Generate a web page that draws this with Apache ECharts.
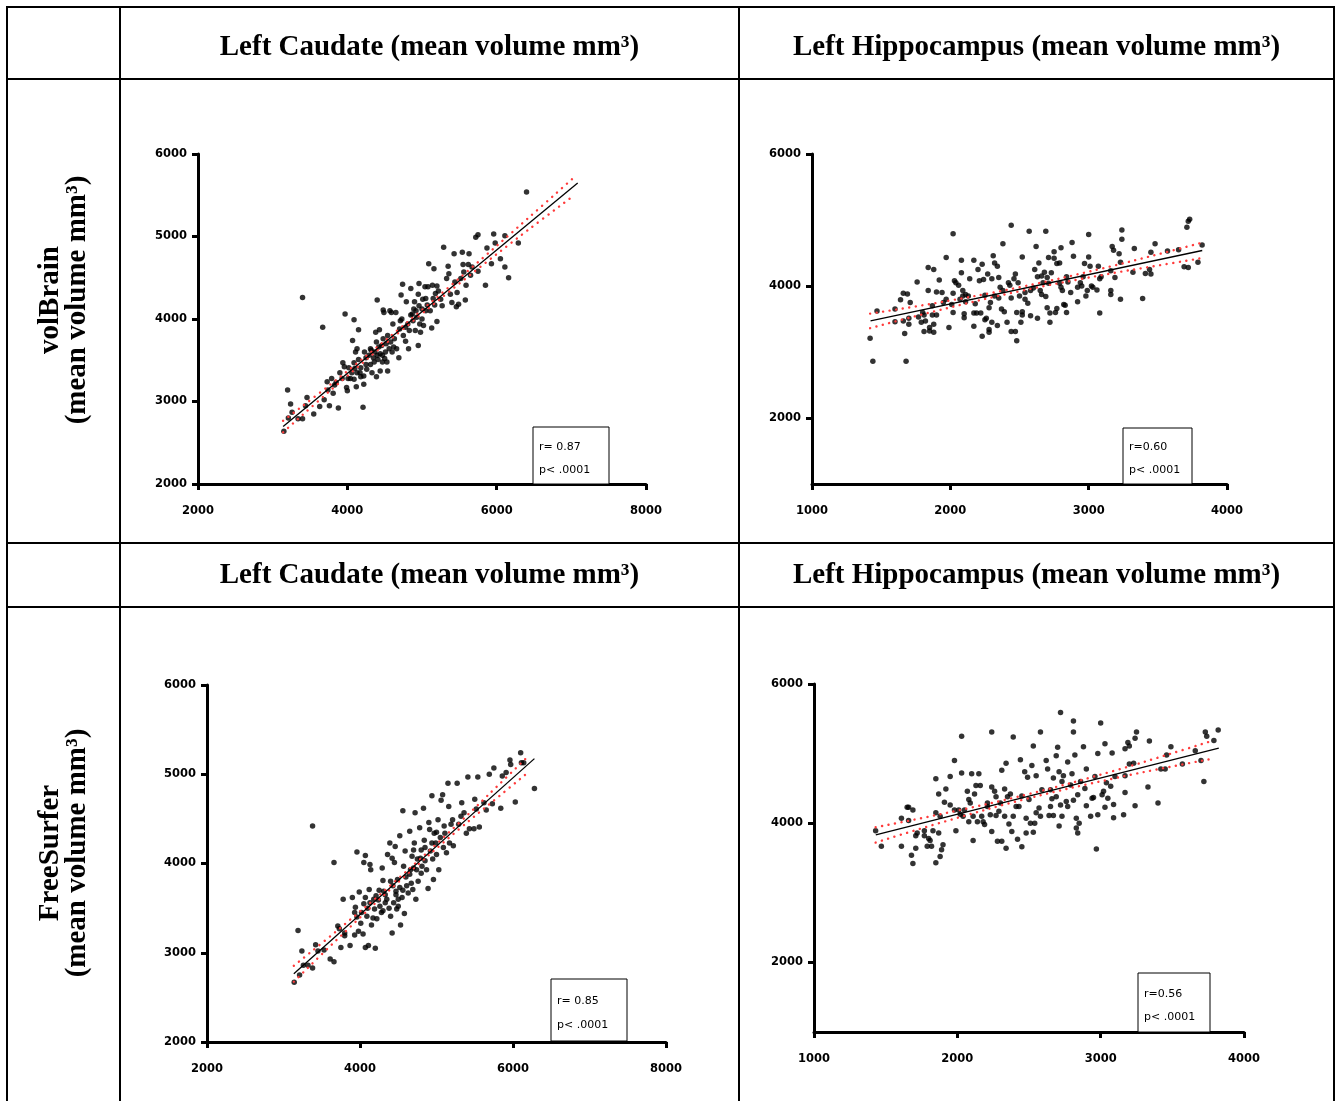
<!DOCTYPE html>
<html>
<head>
<meta charset="utf-8">
<script src="https://cdn.jsdelivr.net/npm/echarts@6/dist/echarts.min.js"></script>
<style>
  html, body { margin: 0; padding: 0; background: #fff; }
  #chart { width: 1338px; height: 1101px; }
</style>
</head>
<body>
<div id="chart"></div>
<script>
// volBrain - left caudate (x: reference volume, y: volBrain volume)
const vbCaudate = [
  [3150,2640],[3200,3140],[3210,2800],[3240,2970],[3260,2870],[3340,2790],[3400,2790],[3400,4260],[3460,3050],[3440,2950],
  [3550,2850],[3630,2940],[3670,3900],[3690,3020],[3730,3240],[3760,2950],[3740,3140],[3790,3280],[3810,3100],[3830,3200],
  [3880,2920],[3930,3280],[3940,3470],[3970,4060],[3960,3420],[3990,3170],[4010,3280],[4000,3130],[4020,3410],[4040,3280],
  [4070,3740],[4090,3990],[4090,3470],[4090,3270],[4100,3400],[4110,3600],[4130,3640],[4130,3350],[4150,3870],[4150,3510],
  [4170,3350],[4180,3410],[4210,2930],[4220,3310],[4220,3210],[4230,3600],[4250,3530],[4260,3390],[4290,3560],[4310,3640],
  [4310,3450],[4330,3350],[4350,3530],[4370,3600],[4380,3840],[4390,3720],[4390,3300],[4400,4230],[4410,3510],[4430,3870],
  [4440,3580],[4440,3370],[4460,3680],[4470,3480],[4480,4110],[4480,3760],[4490,4080],[4510,3600],[4530,3480],[4540,3370],
  [4560,3640],[4570,4100],[4590,4080],[4600,3600],[4610,3940],[4630,3760],[4650,4080],[4660,3640],[4690,3530],[4700,3880],
  [4710,3980],[4720,4290],[4730,4000],[4740,4420],[4750,3800],[4780,3730],[4790,4210],[4810,3940],[4820,3640],[4830,3860],
  [4850,4370],[4870,4060],[4880,3980],[4890,4120],[4900,4210],[4910,3860],[4930,4020],[4950,3680],[4960,4430],[4960,4160],
  [4970,3940],[4980,3840],[5000,4120],[5010,4240],[5020,3920],[5040,4390],[5050,4100],[5070,4170],[5080,4390],[5090,4670],
  [5110,4100],[5130,3890],[5140,4410],[5160,4610],[5170,4170],[5180,4310],[5200,3970],[5220,4340],[5250,4240],[5270,4160],
  [5290,4870],[5330,4490],[5350,4640],[5360,4550],[5380,4300],[5400,4200],[5430,4790],[5440,4450],[5460,4150],[5470,4320],
  [5490,4180],[5520,4490],[5540,4810],[5550,4660],[5560,4570],[5580,4230],[5590,4410],[5620,4660],[5630,4790],[5650,4530],
  [5670,4630],[5720,4990],[5750,5020],[5750,4580],[5850,4410],[5870,4860],[5930,4670],[5960,5030],[5980,4920],[6050,4730],
  [6110,4630],[6110,5010],[6160,4500],[6290,4920],[6400,5540],
  [4320,3620],[4360,3480],[4420,3660],[4470,3560],[4520,3700],[4540,3800],[4580,3720],[4620,3660],[4500,3520],[4400,3560],
  [4250,3450],[4180,3300],[4060,3350],[4120,3180],[3900,3350],[3850,3230],[4780,3900],[4850,4050],[4920,4100],[5000,4000],
  [5050,4250],[4950,4300],[5150,4250],[5200,4400]
];
const vbCaudateFit = [[3140,2697],[7085,5648]];
const vbCaudateBandX = [3140,3800,4700,5600,6400,7040];
const vbCaudateUpper = [2767,3225,3884,4572,5205,5720];
const vbCaudateLower = [2627,3155,3844,4502,5065,5500];

// volBrain - left hippocampus
const vbHippo = [
  [1420,3210],[1440,2860],[1470,3620],[1600,3650],[1600,3460],[1640,3790],[1660,3890],[1660,3470],[1670,3280],[1680,2860],
  [1690,3880],[1700,3420],[1700,3510],[1710,3750],[1760,4060],[1770,3530],[1790,3450],[1800,3600],[1810,3310],[1810,3560],
  [1820,3470],[1840,4280],[1840,3930],[1850,3320],[1850,3370],[1870,3700],[1870,3560],[1880,4250],[1880,3420],[1880,3300],
  [1900,3910],[1900,3560],[1920,4090],[1940,3900],[1950,3750],[1970,3800],[1970,4430],[1990,3370],[2010,3720],[2020,3890],
  [2020,3600],[2020,4790],[2030,4080],[2040,4050],[2060,4010],[2070,3800],[2080,4390],[2080,4200],[2090,3850],[2090,3930],
  [2100,3580],[2100,3520],[2110,3760],[2110,3870],[2130,3850],[2140,4110],[2170,3590],[2170,3390],[2170,4390],[2180,3730],
  [2190,3590],[2200,4250],[2210,4080],[2220,3590],[2230,3240],[2230,4330],[2240,4100],[2250,3860],[2250,3490],[2260,3510],
  [2270,4180],[2280,3340],[2280,3300],[2280,3670],[2290,3750],[2300,4110],[2300,3450],[2310,4460],[2320,4350],[2320,3850],
  [2340,4300],[2340,3400],[2350,4130],[2350,3820],[2360,3980],[2370,3650],[2380,4640],[2380,3930],[2390,3610],[2410,3450],
  [2420,4050],[2430,4010],[2440,3310],[2440,4920],[2440,3820],[2460,4110],[2470,3310],[2470,4180],[2480,3170],[2480,3600],
  [2490,4050],[2500,3850],[2510,3450],[2520,3610],[2520,4440],[2520,3560],[2540,3900],[2540,3800],[2560,3740],[2570,4830],
  [2580,3550],[2580,3930],[2600,3970],[2610,4250],[2620,4600],[2630,4140],[2630,3510],[2640,4350],[2650,3930],[2660,3870],
  [2660,4150],[2670,4050],[2680,4210],[2690,3840],[2690,4830],[2700,4130],[2700,3670],[2710,4430],[2710,4040],[2720,3590],
  [2720,3450],[2730,4200],[2750,4520],[2750,4420],[2760,3600],[2770,4340],[2770,3660],[2790,4040],[2790,4350],[2800,3980],
  [2800,4580],[2810,3930],[2820,3720],[2830,3710],[2840,3600],[2840,4140],[2850,4060],[2870,3900],[2880,4660],[2890,4450],
  [2920,3760],[2920,3980],[2940,4050],[2950,4000],[2960,4140],[2970,4340],[2980,3850],[2990,3930],[3000,4780],[3000,4440],
  [3010,4300],[3020,4000],[3030,3980],[3060,3940],[3070,4300],[3080,4110],[3080,3590],[3090,4140],[3160,3870],[3160,3930],
  [3160,4230],[3170,4600],[3180,4540],[3190,4130],[3220,4490],[3230,3800],[3230,4360],[3240,4710],[3240,4850],[3320,4210],
  [3330,4570],[3390,3810],[3410,4190],[3440,4250],[3450,4180],[3450,4510],[3480,4640],[3570,4530],[3650,4550],[3690,4290],
  [3710,4890],[3720,4280],[3720,4980],[3730,5010],[3790,4360],[3820,4620]
];
const vbHippoFit = [[1423,3472],[3821,4538]];
const vbHippoBandX = [1420,1900,2500,3100,3500,3800];
const vbHippoUpper = [3581,3744,3981,4267,4480,4646];
const vbHippoLower = [3361,3624,3921,4167,4310,4416];

// FreeSurfer - left caudate
const fsCaudate = [
  [3140,2670],[3190,3250],[3210,2750],[3240,3020],[3260,2860],[3320,2860],[3380,4420],[3380,2830],[3420,3090],[3450,3020],
  [3530,3030],[3610,2930],[3660,2900],[3660,4010],[3710,3300],[3730,3270],[3750,3060],[3780,3600],[3800,3190],[3800,3220],
  [3870,3080],[3900,3620],[3940,3510],[3930,3450],[3930,3200],[3960,4130],[3960,3400],[3980,3240],[3990,3680],[4010,3330],
  [4020,3450],[4040,3210],[4050,4010],[4070,3060],[4070,4090],[4070,3620],[4090,3410],[4110,3080],[4120,3710],[4130,3990],
  [4130,3560],[4140,3930],[4150,3310],[4170,3390],[4190,3490],[4200,3050],[4210,3640],[4220,3380],[4240,3590],[4260,3520],
  [4280,3450],[4290,3950],[4300,3810],[4310,3690],[4330,3560],[4350,3600],[4360,4100],[4380,3500],[4390,4230],[4400,3410],
  [4420,4060],[4420,3220],[4430,3750],[4440,3560],[4450,4010],[4460,4190],[4470,3690],[4480,3490],[4490,3820],[4500,3600],
  [4520,4310],[4520,3730],[4530,3310],[4550,3620],[4560,4590],[4570,3970],[4580,3440],[4590,4140],[4610,3750],[4630,3670],
  [4650,4360],[4660,3930],[4670,3780],[4680,4080],[4690,3710],[4710,4230],[4720,4570],[4730,3600],[4740,3930],[4760,3800],
  [4780,4400],[4790,4060],[4800,3890],[4810,3970],[4830,4620],[4840,4260],[4850,4030],[4870,3930],[4890,3720],[4900,4460],
  [4910,4380],[4920,4140],[4940,4760],[4940,4230],[4960,3820],[4970,4340],[4990,4230],[5000,4100],[5020,4490],[5030,3930],
  [5050,4290],[5060,4710],[5080,4770],[5090,4180],[5110,4340],[5130,4120],[5150,4900],[5160,4640],[5170,4230],[5190,4440],
  [5210,4490],[5220,4200],[5270,4900],[5290,4440],[5320,4530],[5330,4680],[5360,4570],[5390,4340],[5410,4970],[5430,4390],
  [5490,4390],[5500,4720],[5520,4610],[5540,4970],[5560,4410],[5620,4680],[5650,4600],[5690,5000],[5730,4670],[5750,5070],
  [5840,4620],[5860,4980],[5910,5020],[5960,5160],[5970,5110],[6030,4690],[6100,5240],[6110,5130],[6140,5130],[6280,4840],
  [4300,3470],[4330,3650],[4470,3650],[4500,3520],[4560,3700],[4600,3850],[4650,3880],[4700,3950],[4750,4050],[4800,4150],
  [4850,4180],[4950,4050],[5000,4350],[5100,4420],[4180,3600],[4100,3500],[4050,3550],[4400,3800],[4250,3700],[4700,4150]
];
const fsCaudateFit = [[3135,2765],[6280,5175]];
const fsCaudateBandX = [3135,3700,4500,5300,5800,6200];
const fsCaudateUpper = [2855,3248,3831,4458,4871,5203];
const fsCaudateLower = [2675,3148,3791,4388,4741,5023];

// FreeSurfer - left hippocampus
const fsHippo = [
  [1430,3890],[1470,3670],[1610,3670],[1610,4070],[1650,4230],[1660,4230],[1660,4040],[1680,3540],[1690,3420],[1690,4190],
  [1710,3640],[1710,3820],[1720,3860],[1770,3890],[1770,3820],[1790,3670],[1800,3780],[1810,3750],[1820,3670],[1830,3890],
  [1850,4640],[1850,4150],[1850,3430],[1870,4420],[1870,3860],[1880,3520],[1880,4100],[1890,3620],[1900,3690],[1910,4300],
  [1920,4490],[1950,4260],[1950,4670],[1980,4900],[1980,4190],[1990,3890],[2010,4190],[2020,4130],[2030,5250],[2040,4100],
  [2030,4720],[2050,4190],[2070,4460],[2080,4340],[2080,4020],[2090,4290],[2100,4710],[2110,3750],[2110,4100],[2120,4420],
  [2130,4540],[2140,4020],[2150,4710],[2160,4540],[2170,4100],[2180,4020],[2190,3980],[2210,4290],[2210,4240],[2230,4120],
  [2240,3880],[2240,5310],[2240,4520],[2260,4460],[2270,4380],[2270,4110],[2280,3740],[2290,4170],[2300,4290],[2310,4760],
  [2310,3740],[2330,4100],[2330,4490],[2340,4860],[2340,3640],[2350,4380],[2360,3990],[2370,4420],[2380,3880],[2390,5240],
  [2390,4100],[2410,4240],[2420,3770],[2430,4240],[2440,4910],[2450,3660],[2450,4390],[2470,4740],[2480,3860],[2480,4070],
  [2490,4660],[2500,4340],[2510,4000],[2520,4830],[2530,5110],[2530,3870],[2540,4000],[2550,4680],[2550,4150],[2570,4220],
  [2580,5310],[2580,4100],[2590,4480],[2620,4900],[2630,4780],[2640,4110],[2650,4240],[2650,4480],[2660,4350],[2670,4650],
  [2670,4110],[2690,4380],[2690,4970],[2700,5090],[2710,3960],[2710,4740],[2720,4260],[2720,5590],[2730,4100],[2730,4600],
  [2740,4680],[2760,4310],[2770,4240],[2770,4880],[2790,4550],[2800,4710],[2810,5470],[2810,5310],[2810,4330],[2820,4980],
  [2830,3930],[2830,4070],[2840,4410],[2850,4000],[2840,3860],[2860,4600],[2880,5100],[2890,4500],[2900,4780],[2900,4250],
  [2930,4100],[2940,4360],[2950,4370],[2960,4670],[2970,3630],[2980,5000],[2980,4120],[3000,5440],[3010,4410],[3020,4460],
  [3030,5140],[3030,4230],[3040,4580],[3050,4360],[3070,4530],[3080,5010],[3090,4080],[3090,4270],[3100,4670],[3160,4120],
  [3170,4440],[3170,4680],[3170,5070],[3190,5160],[3200,5110],[3200,4850],[3230,4860],[3240,4250],[3240,5220],[3250,5310],
  [3330,4520],[3340,5180],[3400,4290],[3420,4780],[3450,4780],[3460,4980],[3490,5100],[3570,4850],[3660,5040],[3700,4900],
  [3720,4600],[3730,5310],[3740,5250],[3790,5190],[3820,5340]
];
const fsHippoFit = [[1431,3832],[3824,5079]];
const fsHippoBandX = [1430,1900,2500,3100,3500,3790];
const fsHippoUpper = [3942,4137,4420,4757,5006,5191];
const fsHippoLower = [3722,4017,4360,4647,4816,4931];

// headers / stats
const colTitles = ['Left Caudate (mean volume mm³)', 'Left Hippocampus (mean volume mm³)'];
const rowTitles = ['volBrain\n(mean volume mm³)', 'FreeSurfer\n(mean volume mm³)'];
const rValues = ['r= 0.87', 'r=0.60', 'r= 0.85', 'r=0.56'];
const pValue = 'p< .0001';

const zip = (xs, ys) => xs.map((x, i) => [x, ys[i]]);

const panels = [
  { grid: { left: 198, top: 154, width: 448, height: 330 }, xr: [2000, 8000, 2000], yr: [2000, 6000, 1000], yTicks: null,
    pts: vbCaudate, fit: vbCaudateFit, up: zip(vbCaudateBandX, vbCaudateUpper), lo: zip(vbCaudateBandX, vbCaudateLower),
    box: [533, 427, 76, 57] },
  { grid: { left: 812, top: 154, width: 415, height: 330 }, xr: [1000, 4000, 1000], yr: [1000, 6000, 1000], yTicks: [2000, 4000, 6000],
    pts: vbHippo, fit: vbHippoFit, up: zip(vbHippoBandX, vbHippoUpper), lo: zip(vbHippoBandX, vbHippoLower),
    box: [1123, 428, 69, 56] },
  { grid: { left: 207, top: 685, width: 459, height: 357 }, xr: [2000, 8000, 2000], yr: [2000, 6000, 1000], yTicks: null,
    pts: fsCaudate, fit: fsCaudateFit, up: zip(fsCaudateBandX, fsCaudateUpper), lo: zip(fsCaudateBandX, fsCaudateLower),
    box: [551, 979, 76, 62] },
  { grid: { left: 814, top: 684, width: 430, height: 348 }, xr: [1000, 4000, 1000], yr: [1000, 6000, 1000], yTicks: [2000, 4000, 6000],
    pts: fsHippo, fit: fsHippoFit, up: zip(fsHippoBandX, fsHippoUpper), lo: zip(fsHippoBandX, fsHippoLower),
    box: [1138, 973, 72, 59] }
];

// plain numbers, no thousands separator
const axisFont = {
  color: '#000', fontWeight: 'bold', fontSize: 11.5, fontFamily: 'DejaVu Sans',
  formatter: (v) => String(v)
};
const axisLine = { onZero: false, lineStyle: { color: '#000', width: 3 } };
const axisTick = { length: 6, lineStyle: { color: '#000', width: 3 } };

const grid = [], xAxis = [], yAxis = [], series = [];
const graphic = [];

panels.forEach((p, i) => {
  grid.push(p.grid);
  xAxis.push({
    type: 'value', gridIndex: i, min: p.xr[0], max: p.xr[1], interval: p.xr[2],
    axisLine, axisTick, splitLine: { show: false },
    axisLabel: Object.assign({ margin: 21 }, axisFont)
  });
  const y = {
    type: 'value', gridIndex: i, min: p.yr[0], max: p.yr[1], interval: p.yr[2],
    axisLine, axisTick: Object.assign({}, axisTick), splitLine: { show: false },
    axisLabel: Object.assign({ margin: 11 }, axisFont)
  };
  if (p.yTicks) {
    y.axisLabel.customValues = p.yTicks;
    y.axisTick.customValues = p.yTicks;
  }
  yAxis.push(y);

  series.push({
    type: 'scatter', xAxisIndex: i, yAxisIndex: i, data: p.pts,
    symbolSize: 5.5, itemStyle: { color: '#000' }, silent: true, z: 2
  });
  [p.up, p.lo].forEach((band) => {
    series.push({
      type: 'line', xAxisIndex: i, yAxisIndex: i, data: band, smooth: 0.4,
      symbol: 'none', silent: true, z: 3,
      lineStyle: { color: '#ff3b3b', width: 2.4, type: [0.1, 6.5], cap: 'round' }
    });
  });
  series.push({
    type: 'line', xAxisIndex: i, yAxisIndex: i, data: p.fit,
    symbol: 'none', silent: true, z: 4, lineStyle: { color: '#000', width: 1.3 }
  });

  const [bx, by, bw, bh] = p.box;
  graphic.push({
    type: 'rect', shape: { x: bx, y: by, width: bw, height: bh }, z: 10,
    style: { fill: '#fff', stroke: '#000', lineWidth: 1 }
  });
  [rValues[i], pValue].forEach((t, k) => {
    graphic.push({
      type: 'text', z: 11,
      style: {
        text: t, x: bx + 6, y: by + bh * (k === 0 ? 0.35 : 0.75),
        font: '11px "DejaVu Sans"', fill: '#000',
        align: 'left', textAlign: 'left', verticalAlign: 'middle', textVerticalAlign: 'middle'
      }
    });
  });
});

// table rules
const L = 7, R = 1334, T = 7, B = 1101;
const hRules = [T, 79, 543, 607];
const vRules = [L, 120, 739, R];
hRules.forEach((yy) => graphic.push({
  type: 'line', shape: { x1: L - 1, y1: yy, x2: R + 1, y2: yy }, style: { stroke: '#000', lineWidth: 2 }
}));
vRules.forEach((xx) => graphic.push({
  type: 'line', shape: { x1: xx, y1: T - 1, x2: xx, y2: B }, style: { stroke: '#000', lineWidth: 2 }
}));

// column headers (two header rows)
const headerFont = 'bold 29px "Liberation Serif"';
[48, 576].forEach((yy) => {
  [429.5, 1036.5].forEach((xx, c) => {
    graphic.push({
      type: 'text',
      style: {
        text: colTitles[c], x: xx, y: yy, font: headerFont, fill: '#000',
        align: 'center', textAlign: 'center', verticalAlign: 'middle', textVerticalAlign: 'middle'
      }
    });
  });
});

// rotated row labels
[300, 853].forEach((yy, r) => {
  graphic.push({
    type: 'text', x: 64, y: yy, rotation: Math.PI / 2,
    style: {
      text: rowTitles[r], x: 0, y: 0, font: headerFont, fill: '#000', lineHeight: 27,
      align: 'center', textAlign: 'center', verticalAlign: 'middle', textVerticalAlign: 'middle'
    }
  });
});

const chart = echarts.init(document.getElementById('chart'));
chart.setOption({
  animation: false,
  backgroundColor: '#fff',
  grid, xAxis, yAxis, series, graphic
});
window.addEventListener('resize', () => chart.resize());
</script>
</body>
</html>
